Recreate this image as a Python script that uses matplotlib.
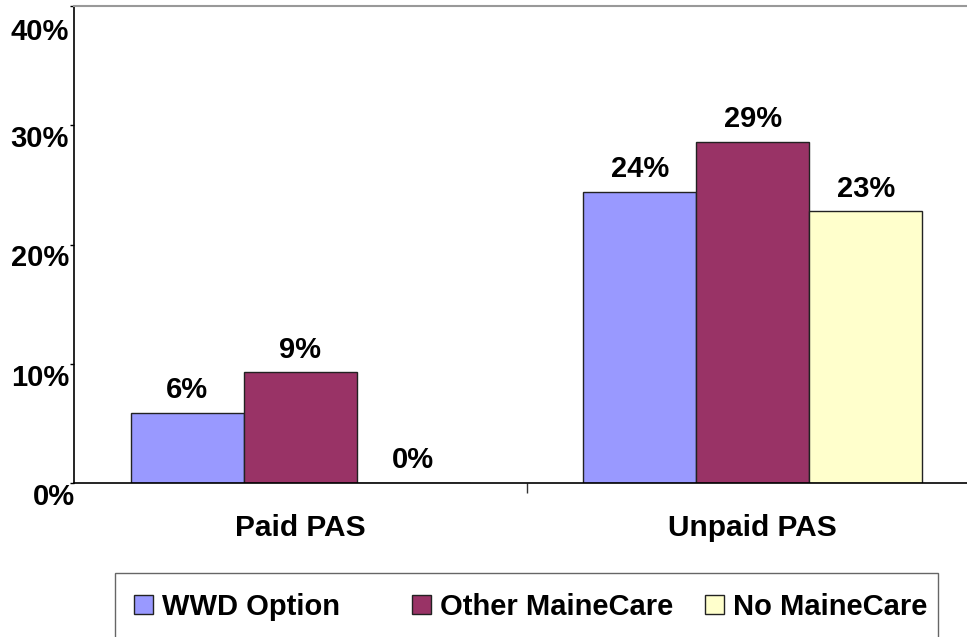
import numpy as np
import matplotlib.pyplot as plt
from matplotlib.patches import Patch, Rectangle
from matplotlib.transforms import ScaledTranslation

plt.rcParams['font.family'] = ['Liberation Sans', 'DejaVu Sans']
plt.rcParams['font.weight'] = 'bold'

# data (percent)
categories = ['Paid PAS', 'Unpaid PAS']
series_names = ['WWD Option', 'Other MaineCare', 'No MaineCare']
wwd_option = [5.9, 24.4]
other_mainecare = [9.3, 28.6]
no_mainecare = [0.0, 22.8]
ytick_vals = [0, 10, 20, 30, 40]
ytick_labels = ['0%', '10%', '20%', '30%', '40%']

colors = ['#9999FF', '#993366', '#FFFFCC']
W, H = 967, 637

fig = plt.figure(figsize=(W / 100, H / 100), dpi=100)
ax = fig.add_axes([74 / W, 1 - 483 / H, 905 / W, (483 - 6) / H])

x = np.arange(len(categories))
width = 0.25
all_series = [wwd_option, other_mainecare, no_mainecare]
for i, (vals, col) in enumerate(zip(all_series, colors)):
    pos = x + (i - 1) * width
    ax.bar(pos, vals, width, color=col, edgecolor='#222222', linewidth=1.0, zorder=2)
    for xp, v in zip(pos, vals):
        ax.annotate(f'{v:.0f}%', (xp, v), xytext=(0, 10.5), textcoords='offset points',
                    ha='center', va='baseline', fontsize=21, fontweight='bold')

ax.set_xlim(-0.5, 1.5)
ax.set_ylim(0, 40)

# spines
ax.spines['right'].set_visible(False)
ax.spines['top'].set_color('#999999')
ax.spines['top'].set_linewidth(1.5)
ax.spines['left'].set_linewidth(1.2)
ax.spines['bottom'].set_linewidth(1.2)

# y axis
ax.set_yticks(ytick_vals)
ax.set_yticklabels(ytick_labels, fontsize=21, fontweight='bold')
ax.tick_params(axis='y', length=3, width=1, pad=0.5)
for lbl in ax.get_yticklabels():
    lbl.set_verticalalignment('top')
ylabs = ax.get_yticklabels()
ylabs[0].set_transform(ylabs[0].get_transform() + ScaledTranslation(6 / 100, 0, fig.dpi_scale_trans))
ylabs[-1].set_transform(ylabs[-1].get_transform() + ScaledTranslation(0, -12 / 100, fig.dpi_scale_trans))

# x axis: labels at category centers, single divider tick
ax.set_xticks(x)
ax.set_xticklabels(categories, fontsize=21.5, fontweight='bold')
ax.set_xticks([0.5], minor=True)
ax.tick_params(axis='x', which='major', length=0, pad=22.5)
ax.tick_params(axis='x', which='minor', length=7, width=1, color='#333333')

# legend: frame plus one entry per series at Excel-like positions
fig.patches.append(Rectangle((115 / W, -0.05), (938 - 115) / W, 0.05 + 1 - 573 / H,
                             transform=fig.transFigure, facecolor='none',
                             edgecolor='#666666', linewidth=1.0))
entry_x = [134, 412, 705]
for name, col, ex in zip(series_names, colors, entry_x):
    h = Patch(facecolor=col, edgecolor='#222222', linewidth=1.0)
    fig.legend([h], [name], loc='center left', bbox_to_anchor=(ex / W, 1 - 607 / H),
               frameon=False, borderpad=0, borderaxespad=0, fontsize=21,
               handlelength=0.65, handleheight=0.65, handletextpad=0.3)

fig.savefig('out.png', dpi=100)
